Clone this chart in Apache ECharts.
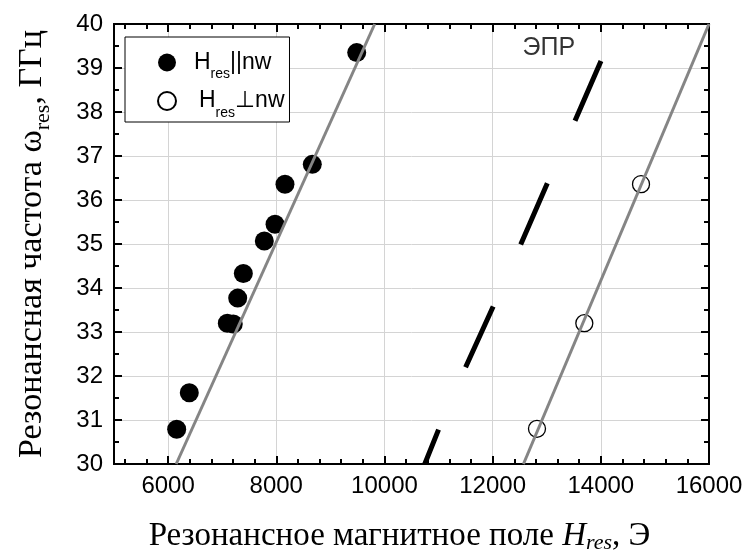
<!DOCTYPE html>
<html><head><meta charset="utf-8">
<script src="https://cdn.jsdelivr.net/npm/echarts@6/dist/echarts.min.js"></script>
<style>html,body{margin:0;padding:0;background:#fff}#c{width:744px;height:557px}</style>
</head><body><div id="c"></div>
<script>
// H_res || nw (filled circles)
const hPar = [6159, 6392, 7095, 7205, 7287, 7391, 7779, 7977, 8161, 8666, 9487];
const wPar = [30.79, 31.62, 33.20, 33.18, 33.77, 34.33, 35.07, 35.45, 36.36, 36.81, 39.35];
// H_res ⊥ nw (open circles)
const hPerp = [12820, 13695, 14743];
const wPerp = [30.80, 33.20, 36.36];
// grey fit lines
const fitParH = [6150, 9820];
const fitParW = [30, 40];
const fitPerpH = [12570, 16000];
const fitPerpW = [30, 40];
// ЭПР dashed line (visible dash segments, null = gap)
const eprH = [10745, 11000, null, 11500, 12010, null, 12519, 13011, null, 13523, 14003];
const eprW = [30.0, 30.78, null, 32.20, 33.58, null, 34.99, 36.38, null, 37.80, 39.16];
// annotation
const noteH = [13040];
const noteW = [39.45];
const noteText = ['ЭПР'];
// ticks
const xMajorTicks = [6000, 8000, 10000, 12000, 14000, 16000];
const xMinorTicks = [5200, 5600, 6400, 6800, 7200, 7600, 8400, 8800, 9200, 9600, 10400, 10800, 11200, 11600, 12400, 12800, 13200, 13600, 14400, 14800, 15200, 15600];

const SANS = '"Liberation Sans", Arial, "DejaVu Sans", sans-serif';
const SERIF = '"Liberation Serif", "Times New Roman", serif';
function pairs(xs, ys) { return xs.map((x, i) => (x === null ? ['-', '-'] : [x, ys[i]])); }

const chart = echarts.init(document.getElementById('c'), null, { renderer: 'canvas' });

const axisLine = { show: true, lineStyle: { color: '#000', width: 2 } };
const gridLine = { show: true, lineStyle: { color: '#d4d4d4', width: 1 } };

function xTickAxis(pos, ticks, len) {
  return {
    type: 'value', position: pos, min: 5000, max: 16000,
    axisLine: axisLine,
    axisTick: { show: true, inside: true, length: len, customValues: ticks, lineStyle: { color: '#000', width: 2 } },
    axisLabel: { show: false },
    splitLine: { show: false }
  };
}

const option = {
  animation: false,
  backgroundColor: '#fff',
  grid: { left: 114, right: 35, top: 24, bottom: 93, containLabel: false, outerBoundsMode: 'none' },
  legend: {
    orient: 'vertical', left: 125, top: 37,
    data: ['par', 'perp'],
    itemWidth: 18, itemHeight: 18, itemGap: 8,
    padding: [14, 5, 2, 32],
    borderColor: '#000', borderWidth: 1, backgroundColor: '#fff',
    formatter: function (name) {
      return name === 'par' ? '{b0|H}{s|res}{b|||nw}' : '{b1|H}{s|res}{b|⊥nw}';
    },
    textStyle: {
      color: '#000',
      rich: {
        b0: { fontFamily: SANS, fontSize: 23, lineHeight: 38, color: '#000', padding: [0, 0, 0, 13] },
        b1: { fontFamily: SANS, fontSize: 23, lineHeight: 38, color: '#000', padding: [0, 0, 0, 18] },
        b: { fontFamily: SANS, fontSize: 23, lineHeight: 38, color: '#000' },
        s: { fontFamily: SANS, fontSize: 14, lineHeight: 13, verticalAlign: 'bottom', color: '#000' }
      }
    }
  },
  xAxis: [
    {
      type: 'value', position: 'bottom', min: 5000, max: 16000,
      axisLine: axisLine,
      axisTick: { show: true, inside: true, length: 8, customValues: xMajorTicks, lineStyle: { color: '#000', width: 2 } },
      axisLabel: { show: true, customValues: xMajorTicks, formatter: v => String(v), color: '#000', fontFamily: SANS, fontSize: 24, margin: 10 },
      splitLine: gridLine,
      name: '{n|Резонансное магнитное поле }{i|H}{si|res}{n|, Э}',
      nameLocation: 'middle', nameGap: 54,
      nameTextStyle: {
        color: '#000',
        padding: [0, 24, 0, 0],
        rich: {
          n: { fontFamily: SERIF, fontSize: 33, lineHeight: 36, color: '#000' },
          i: { fontFamily: SERIF, fontSize: 33, lineHeight: 36, fontStyle: 'italic', color: '#000' },
          si: { fontFamily: SERIF, fontSize: 22, lineHeight: 16, fontStyle: 'italic', verticalAlign: 'bottom', color: '#000' }
        }
      }
    },
    xTickAxis('bottom', xMinorTicks, 5),
    xTickAxis('top', xMajorTicks, 8),
    xTickAxis('top', xMinorTicks, 5)
  ],
  yAxis: [
    {
      type: 'value', position: 'left', min: 30, max: 40, interval: 1,
      axisLine: axisLine,
      axisTick: { show: true, inside: true, length: 8, lineStyle: { color: '#000', width: 2 } },
      minorTick: { show: true, splitNumber: 2, length: 5, lineStyle: { color: '#000', width: 2 } },
      axisLabel: { color: '#000', fontFamily: SANS, fontSize: 24, margin: 11 },
      splitLine: gridLine,
      name: '{n|Резонансная частота ω}{s|res}{n|, ГГц}',
      nameLocation: 'middle', nameRotate: 90, nameGap: 60,
      nameTextStyle: {
        color: '#000',
        rich: {
          n: { fontFamily: SERIF, fontSize: 34, lineHeight: 44, color: '#000' },
          s: { fontFamily: SERIF, fontSize: 22, lineHeight: 20, verticalAlign: 'bottom', color: '#000' }
        }
      }
    },
    {
      type: 'value', position: 'right', min: 30, max: 40, interval: 1,
      axisLine: axisLine,
      axisTick: { show: true, inside: true, length: 8, lineStyle: { color: '#000', width: 2 } },
      minorTick: { show: true, splitNumber: 2, length: 5, lineStyle: { color: '#000', width: 2 } },
      axisLabel: { show: false },
      splitLine: { show: false }
    }
  ],
  series: [
    {
      name: 'par', type: 'scatter', data: pairs(hPar, wPar),
      symbol: 'circle', symbolSize: 19, z: 3,
      itemStyle: { color: '#000', borderColor: '#000', borderWidth: 0, opacity: 1 }
    },
    {
      name: 'perp', type: 'scatter', data: pairs(hPerp, wPerp),
      symbol: 'circle', symbolSize: 17, z: 3,
      itemStyle: { color: 'rgba(255,255,255,0)', borderColor: '#000', borderWidth: 1.3, opacity: 1 }
    },
    {
      name: 'fitPar', type: 'line', data: pairs(fitParH, fitParW),
      symbol: 'none', z: 4, clip: true,
      lineStyle: { color: '#858585', width: 3 }
    },
    {
      name: 'fitPerp', type: 'line', data: pairs(fitPerpH, fitPerpW),
      symbol: 'none', z: 4, clip: true,
      lineStyle: { color: '#858585', width: 3 }
    },
    {
      name: 'epr', type: 'line', data: pairs(eprH, eprW),
      symbol: 'none', z: 4, clip: true, connectNulls: false,
      lineStyle: { color: '#000', width: 5, cap: 'butt' }
    },
    {
      name: 'note', type: 'scatter', data: pairs(noteH, noteW),
      symbolSize: 0, z: 5, silent: true,
      label: {
        show: true, position: 'inside',
        formatter: function (p) { return noteText[p.dataIndex]; },
        color: '#000', fontFamily: SANS, fontSize: 25
      }
    }
  ]
};
option.xAxis.forEach(a => { a.gridIndex = 0; });
option.yAxis.forEach(a => { a.gridIndex = 0; });
chart.setOption(option);
</script>
</body></html>
